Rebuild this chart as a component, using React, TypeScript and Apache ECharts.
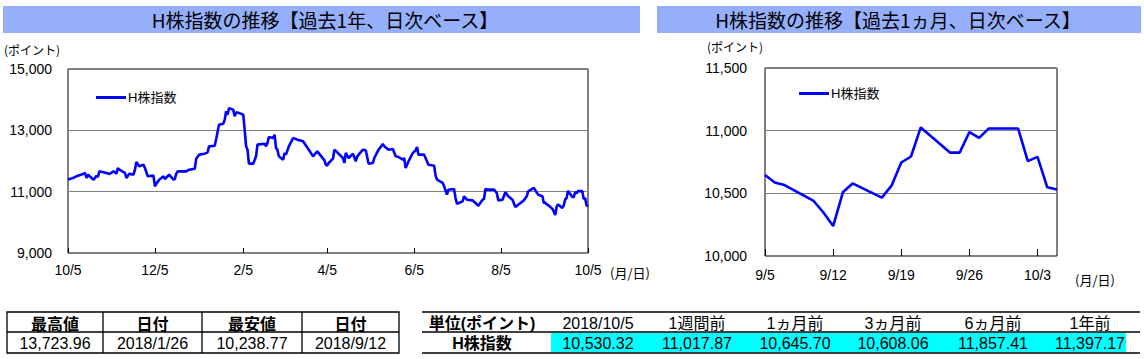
import React, { useEffect, useRef } from "react";
import * as echarts from "echarts";

// ---------- data ----------
const yearDates = [
  "2017-10-05","2017-10-09","2017-10-12","2017-10-16","2017-10-17","2017-10-18","2017-10-19","2017-10-23","2017-10-25","2017-10-26","2017-10-27",
  "2017-11-01","2017-11-03","2017-11-06","2017-11-08","2017-11-09","2017-11-10","2017-11-14","2017-11-15","2017-11-17","2017-11-20","2017-11-21","2017-11-22","2017-11-24","2017-11-27","2017-11-28","2017-11-30",
  "2017-12-04","2017-12-05","2017-12-06","2017-12-08","2017-12-11","2017-12-12","2017-12-15","2017-12-18","2017-12-19","2017-12-20","2017-12-21","2017-12-22","2017-12-27","2017-12-29",
  "2018-01-02","2018-01-03","2018-01-05","2018-01-09","2018-01-11","2018-01-12","2018-01-16","2018-01-17","2018-01-19","2018-01-22","2018-01-23","2018-01-24","2018-01-25","2018-01-26","2018-01-29","2018-01-30","2018-01-31",
  "2018-02-02","2018-02-05","2018-02-06","2018-02-07","2018-02-08","2018-02-09","2018-02-12","2018-02-14","2018-02-15","2018-02-20","2018-02-21","2018-02-22","2018-02-23","2018-02-26","2018-02-27","2018-02-28",
  "2018-03-01","2018-03-02","2018-03-05","2018-03-06","2018-03-07","2018-03-09","2018-03-12","2018-03-15","2018-03-19","2018-03-23","2018-03-26","2018-03-27","2018-03-29",
  "2018-04-03","2018-04-04","2018-04-05","2018-04-06","2018-04-09","2018-04-10","2018-04-12","2018-04-16","2018-04-17","2018-04-18","2018-04-20","2018-04-23","2018-04-25","2018-04-26","2018-04-30",
  "2018-05-02","2018-05-04","2018-05-07","2018-05-08","2018-05-11","2018-05-14","2018-05-15","2018-05-18","2018-05-21","2018-05-23","2018-05-25","2018-05-28","2018-05-29","2018-05-30",
  "2018-06-01","2018-06-04","2018-06-06","2018-06-07","2018-06-08","2018-06-12","2018-06-15","2018-06-19","2018-06-20","2018-06-21","2018-06-25","2018-06-26","2018-06-28","2018-06-29",
  "2018-07-03","2018-07-04","2018-07-05","2018-07-09","2018-07-10","2018-07-12","2018-07-16","2018-07-18","2018-07-20","2018-07-23","2018-07-24","2018-07-25","2018-07-27","2018-07-31",
  "2018-08-02","2018-08-03","2018-08-06","2018-08-08","2018-08-10","2018-08-13","2018-08-15","2018-08-17","2018-08-21","2018-08-23","2018-08-24","2018-08-28","2018-08-31",
  "2018-09-03","2018-09-04",
];
const yearValues = [
  11397,11456,11522,11587,11609,11446,11554,11391,11522,11478,11663,
  11609,11576,11663,11587,11772,11717,11609,11446,11587,11554,11717,11967,11826,11880,11772,11500,
  11522,11174,11261,11391,11500,11413,11554,11391,11413,11587,11663,11663,11663,11717,
  11750,12076,12207,12239,12283,12478,12500,12717,13185,13217,13348,13620,13511,13723.96,13674,13456,13587,
  13565,13511,13022,12478,12369,11913,11913,12152,12533,12565,12478,12587,12783,12750,12859,12424,
  12369,12152,12043,12261,12207,12478,12750,12696,12641,12369,12152,12207,12315,
  12022,11870,11857.41,11935,12076,12369,12283,12098,11935,12261,12098,12239,11989,12152,12369,
  12348,11913,11935,12098,12369,12554,12478,12369,12391,12152,12130,12043,12098,11772,
  11989,12261,12348,12456,12207,12207,11880,11848,11522,11391,11283,11174,10902,11065,
  11087,10793,10608.06,10685,10848,10739,10717,10630,10543,10739,10761,11087,11065,11065,
  10957,10717,10739,10978,10848,10739,10500,10576,10717,10848,11011,11120,10902,
  10848,10630,
];
const monthDates = [
  "2018-09-05","2018-09-06","2018-09-07","2018-09-10","2018-09-11","2018-09-12","2018-09-13","2018-09-14",
  "2018-09-17","2018-09-18","2018-09-19","2018-09-20","2018-09-21","2018-09-24","2018-09-25","2018-09-26",
  "2018-09-27","2018-09-28","2018-10-01","2018-10-02","2018-10-03","2018-10-04","2018-10-05",
];
const monthValues = [
  10645.70,10587,10566,10439,10347,10238.77,10508,10579,
  10466,10561,10746,10794,11026,10825,10825,10989,
  10942,11017.87,11017.87,10757,10791,10548,10530.32,
];
const yearTicks = ["2017-10-05","2017-12-05","2018-02-05","2018-04-05","2018-06-05","2018-08-05","2018-10-05"];
const monthTicks = ["2018-09-05","2018-09-12","2018-09-19","2018-09-26","2018-10-03"];

const statsHeaders = ["最高値", "日付", "最安値", "日付"];
const statsValues = ["13,723.96", "2018/1/26", "10,238.77", "2018/9/12"];
const compHeaders = ["単位(ポイント)", "2018/10/5", "1週間前", "1ヵ月前", "3ヵ月前", "6ヵ月前", "1年前"];
const compRowLabel = "H株指数";
const compValues = [10530.32, 11017.87, 10645.7, 10608.06, 11857.41, 11397.17];

const seriesName = "H株指数";
const titleYear = "H株指数の推移【過去1年、日次ベース】";
const titleMonth = "H株指数の推移【過去1ヵ月、日次ベース】";

// ---------- helpers ----------
function calendarDays(start: string, end: string): string[] {
  const out: string[] = [];
  const [sy, sm, sd] = start.split("-").map(Number);
  const [ey, em, ed] = end.split("-").map(Number);
  let t = Date.UTC(sy, sm - 1, sd);
  const e = Date.UTC(ey, em - 1, ed);
  while (t <= e) {
    out.push(new Date(t).toISOString().slice(0, 10));
    t += 86400000;
  }
  return out;
}
const md = (s: string) => `${Number(s.slice(5, 7))}/${Number(s.slice(8, 10))}`;
const fmt2 = (v: number) => v.toLocaleString("en-US", { minimumFractionDigits: 2, maximumFractionDigits: 2 });

const JP = "'Noto Sans CJK JP', sans-serif";
const NUM = "'Liberation Sans', 'Noto Sans CJK JP', sans-serif";
const BAND = "#95AFFB";

export default function App() {
  const ref = useRef<HTMLDivElement>(null);
  useEffect(() => {
    if (!ref.current) return;
    const chart = echarts.init(ref.current, undefined, { renderer: "svg" });

    const yearCats = calendarDays("2017-10-05", "2018-10-05");
    const monthCats = calendarDays("2018-09-05", "2018-10-05");
    const allDates = yearDates.concat(monthDates);
    const allValues = yearValues.concat(monthValues);
    const yearData = allDates.map((d, i) => [yearCats.indexOf(d), allValues[i]]);
    const monthData = monthDates.map((d, i) => [monthCats.indexOf(d), monthValues[i]]);
    const yTickSet = new Set(yearTicks);
    const mTickSet = new Set(monthTicks);

    const graphics: any[] = [];
    // title bands
    graphics.push({ type: "rect", shape: { x: 3, y: 6, width: 637, height: 27 }, style: { fill: BAND }, silent: true });
    graphics.push({ type: "rect", shape: { x: 657, y: 6, width: 484, height: 27 }, style: { fill: BAND }, silent: true });
    graphics.push({ type: "text", x: 325, y: 19.5, style: { text: titleYear, fontSize: 19, fontFamily: JP, fill: "#000", align: "center", verticalAlign: "middle" } });
    graphics.push({ type: "text", x: 898, y: 19.5, style: { text: titleMonth, fontSize: 19, fontFamily: JP, fill: "#000", align: "center", verticalAlign: "middle" } });
    // unit labels
    graphics.push({ type: "text", x: 4, y: 49, style: { text: "(ポイント)", fontSize: 12, fontFamily: JP, fill: "#000", verticalAlign: "middle" } });
    graphics.push({ type: "text", x: 707, y: 46, style: { text: "(ポイント)", fontSize: 12, fontFamily: JP, fill: "#000", verticalAlign: "middle" } });
    graphics.push({ type: "text", x: 610, y: 272, style: { text: "(月/日)", fontSize: 13, fontFamily: JP, fill: "#000", verticalAlign: "middle" } });
    graphics.push({ type: "text", x: 1075, y: 279, style: { text: "(月/日)", fontSize: 13, fontFamily: JP, fill: "#000", verticalAlign: "middle" } });

    // left table
    const lx = [7, 103, 202, 302, 399];
    const ly = [312, 332, 353];
    const lineStyle = { stroke: "#000", lineWidth: 1.3 };
    graphics.push({ type: "rect", shape: { x: lx[0], y: ly[0], width: lx[4] - lx[0], height: ly[2] - ly[0] }, style: { fill: "none", ...lineStyle } });
    graphics.push({ type: "line", shape: { x1: lx[0], y1: ly[1], x2: lx[4], y2: ly[1] }, style: lineStyle });
    for (let i = 1; i < 4; i++) graphics.push({ type: "line", shape: { x1: lx[i], y1: ly[0], x2: lx[i], y2: ly[2] }, style: lineStyle });
    for (let i = 0; i < 4; i++) {
      const cx = (lx[i] + lx[i + 1]) / 2;
      graphics.push({ type: "text", x: cx, y: (ly[0] + ly[1]) / 2 + 1, style: { text: statsHeaders[i], fontSize: 16, fontWeight: "bold", fontFamily: JP, fill: "#000", align: "center", verticalAlign: "middle" } });
      graphics.push({ type: "text", x: cx, y: (ly[1] + ly[2]) / 2 + 1, style: { text: statsValues[i], fontSize: 16, fontFamily: NUM, fill: "#000", align: "center", verticalAlign: "middle" } });
    }

    // right table
    const rx0 = 422, rx1 = 1140;
    const rcx = [482, 598, 697, 795, 893, 993, 1090];
    graphics.push({ type: "rect", shape: { x: 551, y: 333, width: 575, height: 19 }, style: { fill: "#00FFFF" } });
    for (const y of ly) graphics.push({ type: "line", shape: { x1: rx0, y1: y, x2: rx1, y2: y }, style: lineStyle });
    for (let i = 0; i < compHeaders.length; i++) {
      graphics.push({ type: "text", x: rcx[i], y: (ly[0] + ly[1]) / 2 + 1, style: { text: compHeaders[i], fontSize: 16, fontWeight: i === 0 ? "bold" : "normal", fontFamily: NUM, fill: "#000", align: "center", verticalAlign: "middle" } });
    }
    graphics.push({ type: "text", x: rcx[0], y: (ly[1] + ly[2]) / 2 + 1, style: { text: compRowLabel, fontSize: 16, fontWeight: "bold", fontFamily: NUM, fill: "#000", align: "center", verticalAlign: "middle" } });
    compValues.forEach((v, i) => {
      graphics.push({ type: "text", x: rcx[i + 1], y: (ly[1] + ly[2]) / 2 + 1, style: { text: fmt2(v), fontSize: 16, fontFamily: NUM, fill: "#000", align: "center", verticalAlign: "middle" } });
    });

    const axisLabelStyle = { color: "#000", fontSize: 14, fontFamily: NUM };

    chart.setOption({
      animation: false,
      backgroundColor: "#fff",
      grid: [
        { left: 68, top: 69, width: 520, height: 184, show: true, borderColor: "#000", borderWidth: 1, backgroundColor: "transparent" },
        { left: 765, top: 68, width: 292, height: 188, show: true, borderColor: "#000", borderWidth: 1, backgroundColor: "transparent" },
      ],
      legend: [
        { data: [seriesName], left: 91, top: 86, itemWidth: 30, itemHeight: 3, itemGap: 2, icon: "rect", textStyle: { fontSize: 13, fontFamily: NUM, color: "#000", padding: [0, 0, 0, -3] }, selectedMode: false },
        { data: [seriesName], left: 794, top: 82, itemWidth: 30, itemHeight: 3, itemGap: 2, icon: "rect", textStyle: { fontSize: 13, fontFamily: NUM, color: "#000", padding: [0, 0, 0, -3] }, selectedMode: false },
      ],
      xAxis: [
        {
          type: "category", gridIndex: 0, data: yearCats, boundaryGap: false,
          axisLine: { show: false },
          axisTick: { show: true, inside: true, length: 5, lineStyle: { color: "#000" }, interval: (_i: number, v: string) => yTickSet.has(v) },
          axisLabel: { ...axisLabelStyle, margin: 10, interval: (_i: number, v: string) => yTickSet.has(v), formatter: (v: string) => md(v) },
          splitLine: { show: false },
        },
        {
          type: "category", gridIndex: 1, data: monthCats, boundaryGap: false,
          axisLine: { show: false },
          axisTick: { show: true, inside: true, length: 7, lineStyle: { color: "#000" }, interval: (_i: number, v: string) => mTickSet.has(v) },
          axisLabel: { ...axisLabelStyle, margin: 12, interval: (_i: number, v: string) => mTickSet.has(v), formatter: (v: string) => md(v) },
          splitLine: { show: false },
        },
      ],
      yAxis: [
        {
          type: "value", gridIndex: 0, min: 9000, max: 15000, interval: 2000,
          axisLine: { show: false }, axisTick: { show: false },
          axisLabel: { ...axisLabelStyle, margin: 16 },
          splitLine: { show: true, lineStyle: { color: "#808080", width: 1 } },
        },
        {
          type: "value", gridIndex: 1, min: 10000, max: 11500, interval: 500,
          axisLine: { show: false }, axisTick: { show: false },
          axisLabel: { ...axisLabelStyle, margin: 18 },
          splitLine: { show: true, lineStyle: { color: "#808080", width: 1 } },
        },
      ],
      series: [
        { name: seriesName, type: "line", xAxisIndex: 0, yAxisIndex: 0, data: yearData, showSymbol: false, symbol: "none", lineStyle: { color: "#0000FF", width: 2.6 }, itemStyle: { color: "#0000FF" } },
        { name: seriesName, type: "line", xAxisIndex: 1, yAxisIndex: 1, data: monthData, showSymbol: false, symbol: "none", lineStyle: { color: "#0000FF", width: 2.6 }, itemStyle: { color: "#0000FF" } },
      ],
      graphic: graphics,
    });
    return () => chart.dispose();
  }, []);
  return <div ref={ref} style={{ position: "absolute", left: 0, top: 0, width: 1144, height: 359 }} />;
}
